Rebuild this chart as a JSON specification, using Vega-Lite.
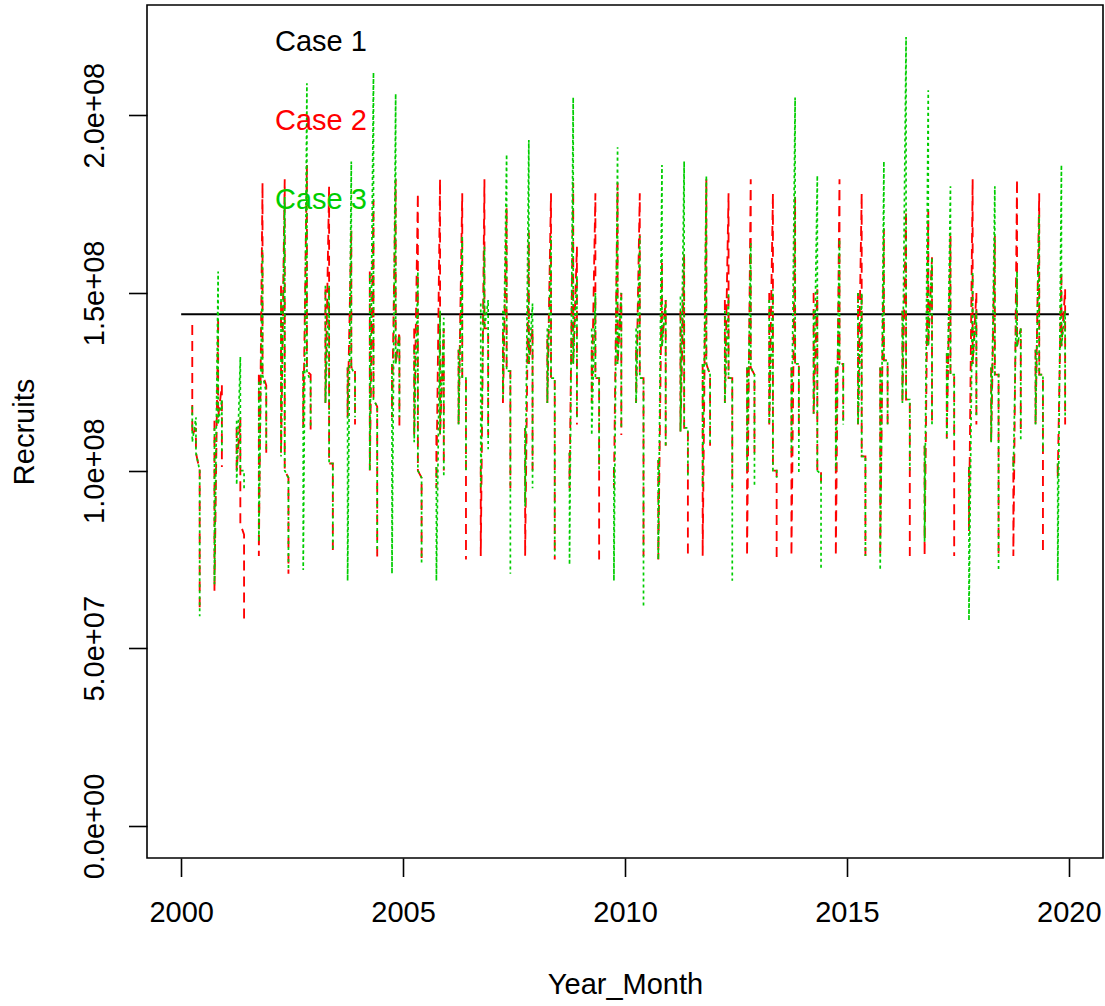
{
"$schema": "https://vega.github.io/schema/vega-lite/v6.json",
"width": 956,
"height": 853,
"autosize": {"type": "none"},
"padding": {"left": 147, "top": 5, "right": 2, "bottom": 148},
"background": "white",
"config": {"view": {"stroke": "black", "strokeWidth": 1.6}, "font": "Liberation Sans"},
"data": {"values": [
{"c":"Case 1","g":"base","k":1,"t":2000,"v":1.44e8},
{"c":"Case 1","g":"base","k":2,"t":2020,"v":1.44e8},

{"c":"Case 2","g":"2000A","k":1,"t":2000.25,"v":1.41e8},{"c":"Case 2","g":"2000A","k":2,"t":2000.25,"v":1.10e8},{"c":"Case 2","g":"2000A","k":3,"t":2000.333,"v":1.12e8},{"c":"Case 2","g":"2000A","k":4,"t":2000.333,"v":1.05e8},{"c":"Case 2","g":"2000A","k":5,"t":2000.417,"v":1.00e8},{"c":"Case 2","g":"2000A","k":6,"t":2000.417,"v":0.60e8},
{"c":"Case 2","g":"2000B","k":1,"t":2000.75,"v":1.14e8},{"c":"Case 2","g":"2000B","k":2,"t":2000.75,"v":0.66e8},{"c":"Case 2","g":"2000B","k":3,"t":2000.833,"v":1.43e8},{"c":"Case 2","g":"2000B","k":4,"t":2000.833,"v":1.15e8},{"c":"Case 2","g":"2000B","k":5,"t":2000.917,"v":1.24e8},{"c":"Case 2","g":"2000B","k":6,"t":2000.917,"v":1.01e8},
{"c":"Case 2","g":"2001A","k":1,"t":2001.25,"v":1.12e8},{"c":"Case 2","g":"2001A","k":2,"t":2001.25,"v":1.00e8},{"c":"Case 2","g":"2001A","k":3,"t":2001.333,"v":1.15e8},{"c":"Case 2","g":"2001A","k":4,"t":2001.333,"v":0.85e8},{"c":"Case 2","g":"2001A","k":5,"t":2001.417,"v":0.82e8},{"c":"Case 2","g":"2001A","k":6,"t":2001.417,"v":0.58e8},
{"c":"Case 2","g":"2001B","k":1,"t":2001.75,"v":1.27e8},{"c":"Case 2","g":"2001B","k":2,"t":2001.75,"v":0.76e8},{"c":"Case 2","g":"2001B","k":3,"t":2001.833,"v":1.81e8},{"c":"Case 2","g":"2001B","k":4,"t":2001.833,"v":1.27e8},{"c":"Case 2","g":"2001B","k":5,"t":2001.917,"v":1.24e8},{"c":"Case 2","g":"2001B","k":6,"t":2001.917,"v":1.05e8},
{"c":"Case 2","g":"2002A","k":1,"t":2002.25,"v":1.52e8},{"c":"Case 2","g":"2002A","k":2,"t":2002.25,"v":1.05e8},{"c":"Case 2","g":"2002A","k":3,"t":2002.333,"v":1.82e8},{"c":"Case 2","g":"2002A","k":4,"t":2002.333,"v":1.00e8},{"c":"Case 2","g":"2002A","k":5,"t":2002.417,"v":0.98e8},{"c":"Case 2","g":"2002A","k":6,"t":2002.417,"v":0.71e8},
{"c":"Case 2","g":"2002B","k":1,"t":2002.75,"v":1.28e8},{"c":"Case 2","g":"2002B","k":2,"t":2002.75,"v":1.12e8},{"c":"Case 2","g":"2002B","k":3,"t":2002.833,"v":1.86e8},{"c":"Case 2","g":"2002B","k":4,"t":2002.833,"v":1.28e8},{"c":"Case 2","g":"2002B","k":5,"t":2002.917,"v":1.27e8},{"c":"Case 2","g":"2002B","k":6,"t":2002.917,"v":1.10e8},
{"c":"Case 2","g":"2003A","k":1,"t":2003.25,"v":1.51e8},{"c":"Case 2","g":"2003A","k":2,"t":2003.25,"v":1.19e8},{"c":"Case 2","g":"2003A","k":3,"t":2003.333,"v":1.80e8},{"c":"Case 2","g":"2003A","k":4,"t":2003.333,"v":1.02e8},{"c":"Case 2","g":"2003A","k":5,"t":2003.417,"v":1.02e8},{"c":"Case 2","g":"2003A","k":6,"t":2003.417,"v":0.76e8},
{"c":"Case 2","g":"2003B","k":1,"t":2003.75,"v":1.29e8},{"c":"Case 2","g":"2003B","k":2,"t":2003.75,"v":1.15e8},{"c":"Case 2","g":"2003B","k":3,"t":2003.833,"v":1.68e8},{"c":"Case 2","g":"2003B","k":4,"t":2003.833,"v":1.29e8},{"c":"Case 2","g":"2003B","k":5,"t":2003.917,"v":1.29e8},{"c":"Case 2","g":"2003B","k":6,"t":2003.917,"v":1.13e8},
{"c":"Case 2","g":"2004A","k":1,"t":2004.25,"v":1.56e8},{"c":"Case 2","g":"2004A","k":2,"t":2004.25,"v":1.00e8},{"c":"Case 2","g":"2004A","k":3,"t":2004.333,"v":1.76e8},{"c":"Case 2","g":"2004A","k":4,"t":2004.333,"v":1.20e8},{"c":"Case 2","g":"2004A","k":5,"t":2004.417,"v":1.18e8},{"c":"Case 2","g":"2004A","k":6,"t":2004.417,"v":0.75e8},
{"c":"Case 2","g":"2004B","k":1,"t":2004.75,"v":1.30e8},{"c":"Case 2","g":"2004B","k":2,"t":2004.75,"v":1.15e8},{"c":"Case 2","g":"2004B","k":3,"t":2004.833,"v":1.82e8},{"c":"Case 2","g":"2004B","k":4,"t":2004.833,"v":1.30e8},{"c":"Case 2","g":"2004B","k":5,"t":2004.917,"v":1.39e8},{"c":"Case 2","g":"2004B","k":6,"t":2004.917,"v":1.12e8},
{"c":"Case 2","g":"2005A","k":1,"t":2005.25,"v":1.40e8},{"c":"Case 2","g":"2005A","k":2,"t":2005.25,"v":1.10e8},{"c":"Case 2","g":"2005A","k":3,"t":2005.333,"v":1.78e8},{"c":"Case 2","g":"2005A","k":4,"t":2005.333,"v":1.00e8},{"c":"Case 2","g":"2005A","k":5,"t":2005.417,"v":0.98e8},{"c":"Case 2","g":"2005A","k":6,"t":2005.417,"v":0.74e8},
{"c":"Case 2","g":"2005B","k":1,"t":2005.75,"v":1.10e8},{"c":"Case 2","g":"2005B","k":2,"t":2005.75,"v":0.95e8},{"c":"Case 2","g":"2005B","k":3,"t":2005.833,"v":1.82e8},{"c":"Case 2","g":"2005B","k":4,"t":2005.833,"v":1.10e8},{"c":"Case 2","g":"2005B","k":5,"t":2005.917,"v":1.40e8},{"c":"Case 2","g":"2005B","k":6,"t":2005.917,"v":1.00e8},
{"c":"Case 2","g":"2006A","k":1,"t":2006.25,"v":1.34e8},{"c":"Case 2","g":"2006A","k":2,"t":2006.25,"v":1.13e8},{"c":"Case 2","g":"2006A","k":3,"t":2006.333,"v":1.78e8},{"c":"Case 2","g":"2006A","k":4,"t":2006.333,"v":1.26e8},{"c":"Case 2","g":"2006A","k":5,"t":2006.417,"v":1.26e8},{"c":"Case 2","g":"2006A","k":6,"t":2006.417,"v":0.75e8},
{"c":"Case 2","g":"2006B","k":1,"t":2006.75,"v":1.01e8},{"c":"Case 2","g":"2006B","k":2,"t":2006.75,"v":0.76e8},{"c":"Case 2","g":"2006B","k":3,"t":2006.833,"v":1.82e8},{"c":"Case 2","g":"2006B","k":4,"t":2006.833,"v":1.40e8},{"c":"Case 2","g":"2006B","k":5,"t":2006.917,"v":1.40e8},{"c":"Case 2","g":"2006B","k":6,"t":2006.917,"v":1.10e8},
{"c":"Case 2","g":"2007A","k":1,"t":2007.25,"v":1.39e8},{"c":"Case 2","g":"2007A","k":2,"t":2007.25,"v":1.19e8},{"c":"Case 2","g":"2007A","k":3,"t":2007.333,"v":1.74e8},{"c":"Case 2","g":"2007A","k":4,"t":2007.333,"v":1.28e8},{"c":"Case 2","g":"2007A","k":5,"t":2007.417,"v":1.28e8},{"c":"Case 2","g":"2007A","k":6,"t":2007.417,"v":0.95e8},
{"c":"Case 2","g":"2007B","k":1,"t":2007.75,"v":1.12e8},{"c":"Case 2","g":"2007B","k":2,"t":2007.75,"v":0.76e8},{"c":"Case 2","g":"2007B","k":3,"t":2007.833,"v":1.67e8},{"c":"Case 2","g":"2007B","k":4,"t":2007.833,"v":1.30e8},{"c":"Case 2","g":"2007B","k":5,"t":2007.917,"v":1.40e8},{"c":"Case 2","g":"2007B","k":6,"t":2007.917,"v":1.00e8},
{"c":"Case 2","g":"2008A","k":1,"t":2008.25,"v":1.37e8},{"c":"Case 2","g":"2008A","k":2,"t":2008.25,"v":1.19e8},{"c":"Case 2","g":"2008A","k":3,"t":2008.333,"v":1.78e8},{"c":"Case 2","g":"2008A","k":4,"t":2008.333,"v":1.26e8},{"c":"Case 2","g":"2008A","k":5,"t":2008.417,"v":1.26e8},{"c":"Case 2","g":"2008A","k":6,"t":2008.417,"v":0.75e8},
{"c":"Case 2","g":"2008B","k":1,"t":2008.75,"v":1.05e8},{"c":"Case 2","g":"2008B","k":2,"t":2008.75,"v":0.95e8},{"c":"Case 2","g":"2008B","k":3,"t":2008.833,"v":1.81e8},{"c":"Case 2","g":"2008B","k":4,"t":2008.833,"v":1.30e8},{"c":"Case 2","g":"2008B","k":5,"t":2008.917,"v":1.63e8},{"c":"Case 2","g":"2008B","k":6,"t":2008.917,"v":1.13e8},
{"c":"Case 2","g":"2009A","k":1,"t":2009.25,"v":1.34e8},{"c":"Case 2","g":"2009A","k":2,"t":2009.25,"v":1.19e8},{"c":"Case 2","g":"2009A","k":3,"t":2009.333,"v":1.78e8},{"c":"Case 2","g":"2009A","k":4,"t":2009.333,"v":1.26e8},{"c":"Case 2","g":"2009A","k":5,"t":2009.417,"v":1.26e8},{"c":"Case 2","g":"2009A","k":6,"t":2009.417,"v":0.75e8},
{"c":"Case 2","g":"2009B","k":1,"t":2009.75,"v":1.01e8},{"c":"Case 2","g":"2009B","k":2,"t":2009.75,"v":0.95e8},{"c":"Case 2","g":"2009B","k":3,"t":2009.833,"v":1.81e8},{"c":"Case 2","g":"2009B","k":4,"t":2009.833,"v":1.30e8},{"c":"Case 2","g":"2009B","k":5,"t":2009.917,"v":1.50e8},{"c":"Case 2","g":"2009B","k":6,"t":2009.917,"v":1.10e8},
{"c":"Case 2","g":"2010A","k":1,"t":2010.25,"v":1.34e8},{"c":"Case 2","g":"2010A","k":2,"t":2010.25,"v":1.19e8},{"c":"Case 2","g":"2010A","k":3,"t":2010.333,"v":1.78e8},{"c":"Case 2","g":"2010A","k":4,"t":2010.333,"v":1.26e8},{"c":"Case 2","g":"2010A","k":5,"t":2010.417,"v":1.26e8},{"c":"Case 2","g":"2010A","k":6,"t":2010.417,"v":0.76e8},
{"c":"Case 2","g":"2010B","k":1,"t":2010.75,"v":1.03e8},{"c":"Case 2","g":"2010B","k":2,"t":2010.75,"v":0.75e8},{"c":"Case 2","g":"2010B","k":3,"t":2010.833,"v":1.59e8},{"c":"Case 2","g":"2010B","k":4,"t":2010.833,"v":1.35e8},{"c":"Case 2","g":"2010B","k":5,"t":2010.917,"v":1.48e8},{"c":"Case 2","g":"2010B","k":6,"t":2010.917,"v":1.07e8},
{"c":"Case 2","g":"2011A","k":1,"t":2011.25,"v":1.45e8},{"c":"Case 2","g":"2011A","k":2,"t":2011.25,"v":1.11e8},{"c":"Case 2","g":"2011A","k":3,"t":2011.333,"v":1.61e8},{"c":"Case 2","g":"2011A","k":4,"t":2011.333,"v":1.12e8},{"c":"Case 2","g":"2011A","k":5,"t":2011.417,"v":1.12e8},{"c":"Case 2","g":"2011A","k":6,"t":2011.417,"v":0.75e8},
{"c":"Case 2","g":"2011B","k":1,"t":2011.75,"v":1.30e8},{"c":"Case 2","g":"2011B","k":2,"t":2011.75,"v":0.76e8},{"c":"Case 2","g":"2011B","k":3,"t":2011.833,"v":1.82e8},{"c":"Case 2","g":"2011B","k":4,"t":2011.833,"v":1.30e8},{"c":"Case 2","g":"2011B","k":5,"t":2011.917,"v":1.27e8},{"c":"Case 2","g":"2011B","k":6,"t":2011.917,"v":1.07e8},
{"c":"Case 2","g":"2012A","k":1,"t":2012.25,"v":1.48e8},{"c":"Case 2","g":"2012A","k":2,"t":2012.25,"v":1.19e8},{"c":"Case 2","g":"2012A","k":3,"t":2012.333,"v":1.78e8},{"c":"Case 2","g":"2012A","k":4,"t":2012.333,"v":1.26e8},{"c":"Case 2","g":"2012A","k":5,"t":2012.417,"v":1.26e8},{"c":"Case 2","g":"2012A","k":6,"t":2012.417,"v":0.95e8},
{"c":"Case 2","g":"2012B","k":1,"t":2012.75,"v":1.29e8},{"c":"Case 2","g":"2012B","k":2,"t":2012.75,"v":0.76e8},{"c":"Case 2","g":"2012B","k":3,"t":2012.833,"v":1.82e8},{"c":"Case 2","g":"2012B","k":4,"t":2012.833,"v":1.29e8},{"c":"Case 2","g":"2012B","k":5,"t":2012.917,"v":1.27e8},{"c":"Case 2","g":"2012B","k":6,"t":2012.917,"v":1.05e8},
{"c":"Case 2","g":"2013A","k":1,"t":2013.25,"v":1.50e8},{"c":"Case 2","g":"2013A","k":2,"t":2013.25,"v":1.13e8},{"c":"Case 2","g":"2013A","k":3,"t":2013.333,"v":1.78e8},{"c":"Case 2","g":"2013A","k":4,"t":2013.333,"v":1.00e8},{"c":"Case 2","g":"2013A","k":5,"t":2013.417,"v":1.00e8},{"c":"Case 2","g":"2013A","k":6,"t":2013.417,"v":0.75e8},
{"c":"Case 2","g":"2013B","k":1,"t":2013.75,"v":1.29e8},{"c":"Case 2","g":"2013B","k":2,"t":2013.75,"v":0.76e8},{"c":"Case 2","g":"2013B","k":3,"t":2013.833,"v":1.77e8},{"c":"Case 2","g":"2013B","k":4,"t":2013.833,"v":1.30e8},{"c":"Case 2","g":"2013B","k":5,"t":2013.917,"v":1.30e8},{"c":"Case 2","g":"2013B","k":6,"t":2013.917,"v":1.10e8},
{"c":"Case 2","g":"2014A","k":1,"t":2014.25,"v":1.50e8},{"c":"Case 2","g":"2014A","k":2,"t":2014.25,"v":1.16e8},{"c":"Case 2","g":"2014A","k":3,"t":2014.333,"v":1.51e8},{"c":"Case 2","g":"2014A","k":4,"t":2014.333,"v":1.00e8},{"c":"Case 2","g":"2014A","k":5,"t":2014.417,"v":1.00e8},{"c":"Case 2","g":"2014A","k":6,"t":2014.417,"v":0.95e8},
{"c":"Case 2","g":"2014B","k":1,"t":2014.75,"v":1.29e8},{"c":"Case 2","g":"2014B","k":2,"t":2014.75,"v":0.76e8},{"c":"Case 2","g":"2014B","k":3,"t":2014.833,"v":1.82e8},{"c":"Case 2","g":"2014B","k":4,"t":2014.833,"v":1.30e8},{"c":"Case 2","g":"2014B","k":5,"t":2014.917,"v":1.30e8},{"c":"Case 2","g":"2014B","k":6,"t":2014.917,"v":1.13e8},
{"c":"Case 2","g":"2015A","k":1,"t":2015.25,"v":1.50e8},{"c":"Case 2","g":"2015A","k":2,"t":2015.25,"v":1.13e8},{"c":"Case 2","g":"2015A","k":3,"t":2015.333,"v":1.78e8},{"c":"Case 2","g":"2015A","k":4,"t":2015.333,"v":1.04e8},{"c":"Case 2","g":"2015A","k":5,"t":2015.417,"v":1.04e8},{"c":"Case 2","g":"2015A","k":6,"t":2015.417,"v":0.76e8},
{"c":"Case 2","g":"2015B","k":1,"t":2015.75,"v":1.29e8},{"c":"Case 2","g":"2015B","k":2,"t":2015.75,"v":0.76e8},{"c":"Case 2","g":"2015B","k":3,"t":2015.833,"v":1.68e8},{"c":"Case 2","g":"2015B","k":4,"t":2015.833,"v":1.31e8},{"c":"Case 2","g":"2015B","k":5,"t":2015.917,"v":1.31e8},{"c":"Case 2","g":"2015B","k":6,"t":2015.917,"v":1.13e8},
{"c":"Case 2","g":"2016A","k":1,"t":2016.25,"v":1.45e8},{"c":"Case 2","g":"2016A","k":2,"t":2016.25,"v":1.19e8},{"c":"Case 2","g":"2016A","k":3,"t":2016.333,"v":1.73e8},{"c":"Case 2","g":"2016A","k":4,"t":2016.333,"v":1.20e8},{"c":"Case 2","g":"2016A","k":5,"t":2016.417,"v":1.20e8},{"c":"Case 2","g":"2016A","k":6,"t":2016.417,"v":0.76e8},
{"c":"Case 2","g":"2016B","k":1,"t":2016.75,"v":1.07e8},{"c":"Case 2","g":"2016B","k":2,"t":2016.75,"v":0.76e8},{"c":"Case 2","g":"2016B","k":3,"t":2016.833,"v":1.73e8},{"c":"Case 2","g":"2016B","k":4,"t":2016.833,"v":1.35e8},{"c":"Case 2","g":"2016B","k":5,"t":2016.917,"v":1.60e8},{"c":"Case 2","g":"2016B","k":6,"t":2016.917,"v":1.13e8},
{"c":"Case 2","g":"2017A","k":1,"t":2017.25,"v":1.33e8},{"c":"Case 2","g":"2017A","k":2,"t":2017.25,"v":1.09e8},{"c":"Case 2","g":"2017A","k":3,"t":2017.333,"v":1.66e8},{"c":"Case 2","g":"2017A","k":4,"t":2017.333,"v":1.27e8},{"c":"Case 2","g":"2017A","k":5,"t":2017.417,"v":1.27e8},{"c":"Case 2","g":"2017A","k":6,"t":2017.417,"v":0.76e8},
{"c":"Case 2","g":"2017B","k":1,"t":2017.75,"v":1.01e8},{"c":"Case 2","g":"2017B","k":2,"t":2017.75,"v":0.83e8},{"c":"Case 2","g":"2017B","k":3,"t":2017.833,"v":1.82e8},{"c":"Case 2","g":"2017B","k":4,"t":2017.833,"v":1.30e8},{"c":"Case 2","g":"2017B","k":5,"t":2017.917,"v":1.50e8},{"c":"Case 2","g":"2017B","k":6,"t":2017.917,"v":1.13e8},
{"c":"Case 2","g":"2018A","k":1,"t":2018.25,"v":1.29e8},{"c":"Case 2","g":"2018A","k":2,"t":2018.25,"v":1.08e8},{"c":"Case 2","g":"2018A","k":3,"t":2018.333,"v":1.66e8},{"c":"Case 2","g":"2018A","k":4,"t":2018.333,"v":1.27e8},{"c":"Case 2","g":"2018A","k":5,"t":2018.417,"v":1.27e8},{"c":"Case 2","g":"2018A","k":6,"t":2018.417,"v":0.76e8},
{"c":"Case 2","g":"2018B","k":1,"t":2018.75,"v":1.04e8},{"c":"Case 2","g":"2018B","k":2,"t":2018.75,"v":0.76e8},{"c":"Case 2","g":"2018B","k":3,"t":2018.833,"v":1.82e8},{"c":"Case 2","g":"2018B","k":4,"t":2018.833,"v":1.35e8},{"c":"Case 2","g":"2018B","k":5,"t":2018.917,"v":1.40e8},{"c":"Case 2","g":"2018B","k":6,"t":2018.917,"v":1.10e8},
{"c":"Case 2","g":"2019A","k":1,"t":2019.25,"v":1.34e8},{"c":"Case 2","g":"2019A","k":2,"t":2019.25,"v":1.13e8},{"c":"Case 2","g":"2019A","k":3,"t":2019.333,"v":1.78e8},{"c":"Case 2","g":"2019A","k":4,"t":2019.333,"v":1.27e8},{"c":"Case 2","g":"2019A","k":5,"t":2019.417,"v":1.27e8},{"c":"Case 2","g":"2019A","k":6,"t":2019.417,"v":0.76e8},
{"c":"Case 2","g":"2019B","k":1,"t":2019.75,"v":1.02e8},{"c":"Case 2","g":"2019B","k":2,"t":2019.75,"v":0.98e8},{"c":"Case 2","g":"2019B","k":3,"t":2019.833,"v":1.56e8},{"c":"Case 2","g":"2019B","k":4,"t":2019.833,"v":1.35e8},{"c":"Case 2","g":"2019B","k":5,"t":2019.917,"v":1.51e8},{"c":"Case 2","g":"2019B","k":6,"t":2019.917,"v":1.13e8},

{"c":"Case 3","g":"2000A","k":1,"t":2000.25,"v":1.18e8},{"c":"Case 3","g":"2000A","k":2,"t":2000.25,"v":1.08e8},{"c":"Case 3","g":"2000A","k":3,"t":2000.333,"v":1.15e8},{"c":"Case 3","g":"2000A","k":4,"t":2000.333,"v":1.05e8},{"c":"Case 3","g":"2000A","k":5,"t":2000.417,"v":1.00e8},{"c":"Case 3","g":"2000A","k":6,"t":2000.417,"v":0.59e8},
{"c":"Case 3","g":"2000B","k":1,"t":2000.75,"v":1.12e8},{"c":"Case 3","g":"2000B","k":2,"t":2000.75,"v":0.68e8},{"c":"Case 3","g":"2000B","k":3,"t":2000.833,"v":1.56e8},{"c":"Case 3","g":"2000B","k":4,"t":2000.833,"v":1.13e8},{"c":"Case 3","g":"2000B","k":5,"t":2000.917,"v":1.20e8},{"c":"Case 3","g":"2000B","k":6,"t":2000.917,"v":1.05e8},
{"c":"Case 3","g":"2001A","k":1,"t":2001.25,"v":1.14e8},{"c":"Case 3","g":"2001A","k":2,"t":2001.25,"v":0.96e8},{"c":"Case 3","g":"2001A","k":3,"t":2001.333,"v":1.32e8},{"c":"Case 3","g":"2001A","k":4,"t":2001.333,"v":1.00e8},{"c":"Case 3","g":"2001A","k":5,"t":2001.417,"v":1.00e8},{"c":"Case 3","g":"2001A","k":6,"t":2001.417,"v":0.95e8},
{"c":"Case 3","g":"2001B","k":1,"t":2001.75,"v":1.25e8},{"c":"Case 3","g":"2001B","k":2,"t":2001.75,"v":0.80e8},{"c":"Case 3","g":"2001B","k":3,"t":2001.833,"v":1.62e8},{"c":"Case 3","g":"2001B","k":4,"t":2001.833,"v":1.27e8},{"c":"Case 3","g":"2001B","k":5,"t":2001.917,"v":1.22e8},{"c":"Case 3","g":"2001B","k":6,"t":2001.917,"v":1.06e8},
{"c":"Case 3","g":"2002A","k":1,"t":2002.25,"v":1.50e8},{"c":"Case 3","g":"2002A","k":2,"t":2002.25,"v":1.04e8},{"c":"Case 3","g":"2002A","k":3,"t":2002.333,"v":1.77e8},{"c":"Case 3","g":"2002A","k":4,"t":2002.333,"v":1.00e8},{"c":"Case 3","g":"2002A","k":5,"t":2002.417,"v":0.98e8},{"c":"Case 3","g":"2002A","k":6,"t":2002.417,"v":0.72e8},
{"c":"Case 3","g":"2002B","k":1,"t":2002.75,"v":1.28e8},{"c":"Case 3","g":"2002B","k":2,"t":2002.75,"v":0.72e8},{"c":"Case 3","g":"2002B","k":3,"t":2002.833,"v":2.09e8},{"c":"Case 3","g":"2002B","k":4,"t":2002.833,"v":1.28e8},{"c":"Case 3","g":"2002B","k":5,"t":2002.917,"v":1.25e8},{"c":"Case 3","g":"2002B","k":6,"t":2002.917,"v":1.12e8},
{"c":"Case 3","g":"2003A","k":1,"t":2003.25,"v":1.52e8},{"c":"Case 3","g":"2003A","k":2,"t":2003.25,"v":1.19e8},{"c":"Case 3","g":"2003A","k":3,"t":2003.333,"v":1.52e8},{"c":"Case 3","g":"2003A","k":4,"t":2003.333,"v":1.02e8},{"c":"Case 3","g":"2003A","k":5,"t":2003.417,"v":1.02e8},{"c":"Case 3","g":"2003A","k":6,"t":2003.417,"v":0.78e8},
{"c":"Case 3","g":"2003B","k":1,"t":2003.75,"v":1.29e8},{"c":"Case 3","g":"2003B","k":2,"t":2003.75,"v":0.69e8},{"c":"Case 3","g":"2003B","k":3,"t":2003.833,"v":1.87e8},{"c":"Case 3","g":"2003B","k":4,"t":2003.833,"v":1.29e8},{"c":"Case 3","g":"2003B","k":5,"t":2003.917,"v":1.27e8},{"c":"Case 3","g":"2003B","k":6,"t":2003.917,"v":1.15e8},
{"c":"Case 3","g":"2004A","k":1,"t":2004.25,"v":1.55e8},{"c":"Case 3","g":"2004A","k":2,"t":2004.25,"v":1.00e8},{"c":"Case 3","g":"2004A","k":3,"t":2004.333,"v":2.12e8},{"c":"Case 3","g":"2004A","k":4,"t":2004.333,"v":1.20e8},{"c":"Case 3","g":"2004A","k":5,"t":2004.417,"v":1.18e8},{"c":"Case 3","g":"2004A","k":6,"t":2004.417,"v":0.77e8},
{"c":"Case 3","g":"2004B","k":1,"t":2004.75,"v":1.30e8},{"c":"Case 3","g":"2004B","k":2,"t":2004.75,"v":0.71e8},{"c":"Case 3","g":"2004B","k":3,"t":2004.833,"v":2.06e8},{"c":"Case 3","g":"2004B","k":4,"t":2004.833,"v":1.30e8},{"c":"Case 3","g":"2004B","k":5,"t":2004.917,"v":1.38e8},{"c":"Case 3","g":"2004B","k":6,"t":2004.917,"v":1.15e8},
{"c":"Case 3","g":"2005A","k":1,"t":2005.25,"v":1.34e8},{"c":"Case 3","g":"2005A","k":2,"t":2005.25,"v":1.08e8},{"c":"Case 3","g":"2005A","k":3,"t":2005.333,"v":1.56e8},{"c":"Case 3","g":"2005A","k":4,"t":2005.333,"v":1.00e8},{"c":"Case 3","g":"2005A","k":5,"t":2005.417,"v":0.98e8},{"c":"Case 3","g":"2005A","k":6,"t":2005.417,"v":0.74e8},
{"c":"Case 3","g":"2005B","k":1,"t":2005.75,"v":1.01e8},{"c":"Case 3","g":"2005B","k":2,"t":2005.75,"v":0.69e8},{"c":"Case 3","g":"2005B","k":3,"t":2005.833,"v":1.45e8},{"c":"Case 3","g":"2005B","k":4,"t":2005.833,"v":1.10e8},{"c":"Case 3","g":"2005B","k":5,"t":2005.917,"v":1.43e8},{"c":"Case 3","g":"2005B","k":6,"t":2005.917,"v":0.98e8},
{"c":"Case 3","g":"2006A","k":1,"t":2006.25,"v":1.34e8},{"c":"Case 3","g":"2006A","k":2,"t":2006.25,"v":1.13e8},{"c":"Case 3","g":"2006A","k":3,"t":2006.333,"v":1.66e8},{"c":"Case 3","g":"2006A","k":4,"t":2006.333,"v":1.26e8},{"c":"Case 3","g":"2006A","k":5,"t":2006.417,"v":1.26e8},{"c":"Case 3","g":"2006A","k":6,"t":2006.417,"v":1.00e8},
{"c":"Case 3","g":"2006B","k":1,"t":2006.75,"v":1.47e8},{"c":"Case 3","g":"2006B","k":2,"t":2006.75,"v":0.95e8},{"c":"Case 3","g":"2006B","k":3,"t":2006.833,"v":1.63e8},{"c":"Case 3","g":"2006B","k":4,"t":2006.833,"v":1.40e8},{"c":"Case 3","g":"2006B","k":5,"t":2006.917,"v":1.48e8},{"c":"Case 3","g":"2006B","k":6,"t":2006.917,"v":1.06e8},
{"c":"Case 3","g":"2007A","k":1,"t":2007.25,"v":1.45e8},{"c":"Case 3","g":"2007A","k":2,"t":2007.25,"v":1.20e8},{"c":"Case 3","g":"2007A","k":3,"t":2007.333,"v":1.89e8},{"c":"Case 3","g":"2007A","k":4,"t":2007.333,"v":1.28e8},{"c":"Case 3","g":"2007A","k":5,"t":2007.417,"v":1.28e8},{"c":"Case 3","g":"2007A","k":6,"t":2007.417,"v":0.71e8},
{"c":"Case 3","g":"2007B","k":1,"t":2007.75,"v":1.12e8},{"c":"Case 3","g":"2007B","k":2,"t":2007.75,"v":0.90e8},{"c":"Case 3","g":"2007B","k":3,"t":2007.833,"v":1.93e8},{"c":"Case 3","g":"2007B","k":4,"t":2007.833,"v":1.30e8},{"c":"Case 3","g":"2007B","k":5,"t":2007.917,"v":1.47e8},{"c":"Case 3","g":"2007B","k":6,"t":2007.917,"v":0.95e8},
{"c":"Case 3","g":"2008A","k":1,"t":2008.25,"v":1.40e8},{"c":"Case 3","g":"2008A","k":2,"t":2008.25,"v":1.19e8},{"c":"Case 3","g":"2008A","k":3,"t":2008.333,"v":1.66e8},{"c":"Case 3","g":"2008A","k":4,"t":2008.333,"v":1.26e8},{"c":"Case 3","g":"2008A","k":5,"t":2008.417,"v":1.26e8},{"c":"Case 3","g":"2008A","k":6,"t":2008.417,"v":0.76e8},
{"c":"Case 3","g":"2008B","k":1,"t":2008.75,"v":1.05e8},{"c":"Case 3","g":"2008B","k":2,"t":2008.75,"v":0.735e8},{"c":"Case 3","g":"2008B","k":3,"t":2008.833,"v":2.05e8},{"c":"Case 3","g":"2008B","k":4,"t":2008.833,"v":1.30e8},{"c":"Case 3","g":"2008B","k":5,"t":2008.917,"v":1.55e8},{"c":"Case 3","g":"2008B","k":6,"t":2008.917,"v":1.15e8},
{"c":"Case 3","g":"2009A","k":1,"t":2009.25,"v":1.40e8},{"c":"Case 3","g":"2009A","k":2,"t":2009.25,"v":1.10e8},{"c":"Case 3","g":"2009A","k":3,"t":2009.333,"v":1.50e8},{"c":"Case 3","g":"2009A","k":4,"t":2009.333,"v":1.26e8},{"c":"Case 3","g":"2009A","k":5,"t":2009.417,"v":1.26e8},{"c":"Case 3","g":"2009A","k":6,"t":2009.417,"v":1.00e8},
{"c":"Case 3","g":"2009B","k":1,"t":2009.75,"v":1.01e8},{"c":"Case 3","g":"2009B","k":2,"t":2009.75,"v":0.69e8},{"c":"Case 3","g":"2009B","k":3,"t":2009.833,"v":1.91e8},{"c":"Case 3","g":"2009B","k":4,"t":2009.833,"v":1.30e8},{"c":"Case 3","g":"2009B","k":5,"t":2009.917,"v":1.50e8},{"c":"Case 3","g":"2009B","k":6,"t":2009.917,"v":1.12e8},
{"c":"Case 3","g":"2010A","k":1,"t":2010.25,"v":1.40e8},{"c":"Case 3","g":"2010A","k":2,"t":2010.25,"v":1.19e8},{"c":"Case 3","g":"2010A","k":3,"t":2010.333,"v":1.66e8},{"c":"Case 3","g":"2010A","k":4,"t":2010.333,"v":1.26e8},{"c":"Case 3","g":"2010A","k":5,"t":2010.417,"v":1.26e8},{"c":"Case 3","g":"2010A","k":6,"t":2010.417,"v":0.62e8},
{"c":"Case 3","g":"2010B","k":1,"t":2010.75,"v":1.03e8},{"c":"Case 3","g":"2010B","k":2,"t":2010.75,"v":0.75e8},{"c":"Case 3","g":"2010B","k":3,"t":2010.833,"v":1.86e8},{"c":"Case 3","g":"2010B","k":4,"t":2010.833,"v":1.35e8},{"c":"Case 3","g":"2010B","k":5,"t":2010.917,"v":1.48e8},{"c":"Case 3","g":"2010B","k":6,"t":2010.917,"v":1.07e8},
{"c":"Case 3","g":"2011A","k":1,"t":2011.25,"v":1.49e8},{"c":"Case 3","g":"2011A","k":2,"t":2011.25,"v":1.11e8},{"c":"Case 3","g":"2011A","k":3,"t":2011.333,"v":1.87e8},{"c":"Case 3","g":"2011A","k":4,"t":2011.333,"v":1.12e8},{"c":"Case 3","g":"2011A","k":5,"t":2011.417,"v":1.12e8},{"c":"Case 3","g":"2011A","k":6,"t":2011.417,"v":0.98e8},
{"c":"Case 3","g":"2011B","k":1,"t":2011.75,"v":1.30e8},{"c":"Case 3","g":"2011B","k":2,"t":2011.75,"v":0.95e8},{"c":"Case 3","g":"2011B","k":3,"t":2011.833,"v":1.83e8},{"c":"Case 3","g":"2011B","k":4,"t":2011.833,"v":1.30e8},{"c":"Case 3","g":"2011B","k":5,"t":2011.917,"v":1.27e8},{"c":"Case 3","g":"2011B","k":6,"t":2011.917,"v":1.07e8},
{"c":"Case 3","g":"2012A","k":1,"t":2012.25,"v":1.45e8},{"c":"Case 3","g":"2012A","k":2,"t":2012.25,"v":1.19e8},{"c":"Case 3","g":"2012A","k":3,"t":2012.333,"v":1.50e8},{"c":"Case 3","g":"2012A","k":4,"t":2012.333,"v":1.26e8},{"c":"Case 3","g":"2012A","k":5,"t":2012.417,"v":1.26e8},{"c":"Case 3","g":"2012A","k":6,"t":2012.417,"v":0.69e8},
{"c":"Case 3","g":"2012B","k":1,"t":2012.75,"v":1.29e8},{"c":"Case 3","g":"2012B","k":2,"t":2012.75,"v":1.00e8},{"c":"Case 3","g":"2012B","k":3,"t":2012.833,"v":1.64e8},{"c":"Case 3","g":"2012B","k":4,"t":2012.833,"v":1.29e8},{"c":"Case 3","g":"2012B","k":5,"t":2012.917,"v":1.27e8},{"c":"Case 3","g":"2012B","k":6,"t":2012.917,"v":0.96e8},
{"c":"Case 3","g":"2013A","k":1,"t":2013.25,"v":1.48e8},{"c":"Case 3","g":"2013A","k":2,"t":2013.25,"v":1.13e8},{"c":"Case 3","g":"2013A","k":3,"t":2013.333,"v":1.51e8},{"c":"Case 3","g":"2013A","k":4,"t":2013.333,"v":1.00e8},{"c":"Case 3","g":"2013A","k":5,"t":2013.417,"v":1.00e8},{"c":"Case 3","g":"2013A","k":6,"t":2013.417,"v":0.98e8},
{"c":"Case 3","g":"2013B","k":1,"t":2013.75,"v":1.29e8},{"c":"Case 3","g":"2013B","k":2,"t":2013.75,"v":1.05e8},{"c":"Case 3","g":"2013B","k":3,"t":2013.833,"v":2.05e8},{"c":"Case 3","g":"2013B","k":4,"t":2013.833,"v":1.30e8},{"c":"Case 3","g":"2013B","k":5,"t":2013.917,"v":1.30e8},{"c":"Case 3","g":"2013B","k":6,"t":2013.917,"v":0.99e8},
{"c":"Case 3","g":"2014A","k":1,"t":2014.25,"v":1.45e8},{"c":"Case 3","g":"2014A","k":2,"t":2014.25,"v":1.16e8},{"c":"Case 3","g":"2014A","k":3,"t":2014.333,"v":1.83e8},{"c":"Case 3","g":"2014A","k":4,"t":2014.333,"v":1.00e8},{"c":"Case 3","g":"2014A","k":5,"t":2014.417,"v":0.99e8},{"c":"Case 3","g":"2014A","k":6,"t":2014.417,"v":0.72e8},
{"c":"Case 3","g":"2014B","k":1,"t":2014.75,"v":1.29e8},{"c":"Case 3","g":"2014B","k":2,"t":2014.75,"v":1.00e8},{"c":"Case 3","g":"2014B","k":3,"t":2014.833,"v":1.65e8},{"c":"Case 3","g":"2014B","k":4,"t":2014.833,"v":1.30e8},{"c":"Case 3","g":"2014B","k":5,"t":2014.917,"v":1.30e8},{"c":"Case 3","g":"2014B","k":6,"t":2014.917,"v":1.13e8},
{"c":"Case 3","g":"2015A","k":1,"t":2015.25,"v":1.50e8},{"c":"Case 3","g":"2015A","k":2,"t":2015.25,"v":1.13e8},{"c":"Case 3","g":"2015A","k":3,"t":2015.333,"v":1.50e8},{"c":"Case 3","g":"2015A","k":4,"t":2015.333,"v":1.04e8},{"c":"Case 3","g":"2015A","k":5,"t":2015.417,"v":1.04e8},{"c":"Case 3","g":"2015A","k":6,"t":2015.417,"v":0.76e8},
{"c":"Case 3","g":"2015B","k":1,"t":2015.75,"v":1.29e8},{"c":"Case 3","g":"2015B","k":2,"t":2015.75,"v":0.72e8},{"c":"Case 3","g":"2015B","k":3,"t":2015.833,"v":1.87e8},{"c":"Case 3","g":"2015B","k":4,"t":2015.833,"v":1.31e8},{"c":"Case 3","g":"2015B","k":5,"t":2015.917,"v":1.31e8},{"c":"Case 3","g":"2015B","k":6,"t":2015.917,"v":1.13e8},
{"c":"Case 3","g":"2016A","k":1,"t":2016.25,"v":1.45e8},{"c":"Case 3","g":"2016A","k":2,"t":2016.25,"v":1.19e8},{"c":"Case 3","g":"2016A","k":3,"t":2016.333,"v":2.22e8},{"c":"Case 3","g":"2016A","k":4,"t":2016.333,"v":1.20e8},{"c":"Case 3","g":"2016A","k":5,"t":2016.417,"v":1.20e8},{"c":"Case 3","g":"2016A","k":6,"t":2016.417,"v":1.00e8},
{"c":"Case 3","g":"2016B","k":1,"t":2016.75,"v":1.07e8},{"c":"Case 3","g":"2016B","k":2,"t":2016.75,"v":0.80e8},{"c":"Case 3","g":"2016B","k":3,"t":2016.833,"v":2.07e8},{"c":"Case 3","g":"2016B","k":4,"t":2016.833,"v":1.35e8},{"c":"Case 3","g":"2016B","k":5,"t":2016.917,"v":1.60e8},{"c":"Case 3","g":"2016B","k":6,"t":2016.917,"v":1.13e8},
{"c":"Case 3","g":"2017A","k":1,"t":2017.25,"v":1.33e8},{"c":"Case 3","g":"2017A","k":2,"t":2017.25,"v":1.09e8},{"c":"Case 3","g":"2017A","k":3,"t":2017.333,"v":1.80e8},{"c":"Case 3","g":"2017A","k":4,"t":2017.333,"v":1.27e8},{"c":"Case 3","g":"2017A","k":5,"t":2017.417,"v":1.27e8},{"c":"Case 3","g":"2017A","k":6,"t":2017.417,"v":1.09e8},
{"c":"Case 3","g":"2017B","k":1,"t":2017.75,"v":1.01e8},{"c":"Case 3","g":"2017B","k":2,"t":2017.75,"v":0.578e8},{"c":"Case 3","g":"2017B","k":3,"t":2017.833,"v":1.56e8},{"c":"Case 3","g":"2017B","k":4,"t":2017.833,"v":1.30e8},{"c":"Case 3","g":"2017B","k":5,"t":2017.917,"v":1.45e8},{"c":"Case 3","g":"2017B","k":6,"t":2017.917,"v":1.15e8},
{"c":"Case 3","g":"2018A","k":1,"t":2018.25,"v":1.29e8},{"c":"Case 3","g":"2018A","k":2,"t":2018.25,"v":1.08e8},{"c":"Case 3","g":"2018A","k":3,"t":2018.333,"v":1.80e8},{"c":"Case 3","g":"2018A","k":4,"t":2018.333,"v":1.27e8},{"c":"Case 3","g":"2018A","k":5,"t":2018.417,"v":1.27e8},{"c":"Case 3","g":"2018A","k":6,"t":2018.417,"v":0.72e8},
{"c":"Case 3","g":"2018B","k":1,"t":2018.75,"v":1.04e8},{"c":"Case 3","g":"2018B","k":2,"t":2018.75,"v":1.00e8},{"c":"Case 3","g":"2018B","k":3,"t":2018.833,"v":1.56e8},{"c":"Case 3","g":"2018B","k":4,"t":2018.833,"v":1.35e8},{"c":"Case 3","g":"2018B","k":5,"t":2018.917,"v":1.40e8},{"c":"Case 3","g":"2018B","k":6,"t":2018.917,"v":1.08e8},
{"c":"Case 3","g":"2019A","k":1,"t":2019.25,"v":1.34e8},{"c":"Case 3","g":"2019A","k":2,"t":2019.25,"v":1.13e8},{"c":"Case 3","g":"2019A","k":3,"t":2019.333,"v":1.72e8},{"c":"Case 3","g":"2019A","k":4,"t":2019.333,"v":1.27e8},{"c":"Case 3","g":"2019A","k":5,"t":2019.417,"v":1.27e8},{"c":"Case 3","g":"2019A","k":6,"t":2019.417,"v":1.05e8},
{"c":"Case 3","g":"2019B","k":1,"t":2019.75,"v":1.02e8},{"c":"Case 3","g":"2019B","k":2,"t":2019.75,"v":0.69e8},{"c":"Case 3","g":"2019B","k":3,"t":2019.833,"v":1.86e8},{"c":"Case 3","g":"2019B","k":4,"t":2019.833,"v":1.35e8},{"c":"Case 3","g":"2019B","k":5,"t":2019.917,"v":1.45e8},{"c":"Case 3","g":"2019B","k":6,"t":2019.917,"v":1.15e8}
]},
"mark": {"type": "line", "clip": true},
"encoding": {
  "x": {"field": "t", "type": "quantitative",
    "scale": {"domain": [1999.23, 2020.77], "nice": false, "zero": false},
    "axis": {"values": [2000, 2005, 2010, 2015, 2020], "format": "d", "title": "Year_Month",
      "grid": false, "domain": false, "tickSize": 18.5, "tickWidth": 1.6, "tickColor": "black",
      "labelFont": "Liberation Sans", "labelFontSize": 29, "labelColor": "black", "labelPadding": 22,
      "labelFlush": false, "labelOverlap": false,
      "titleFont": "Liberation Sans", "titleFontSize": 29, "titleFontWeight": "normal", "titleColor": "black",
      "titleX": 478, "titleY": 135, "titleBaseline": "alphabetic", "titleAlign": "center"}},
  "y": {"field": "v", "type": "quantitative",
    "scale": {"domain": [-9000000, 231000000], "nice": false, "zero": false},
    "axis": {"values": [0, 50000000, 100000000, 150000000, 200000000],
      "labelExpr": "replace(format(datum.value, '.1e'), 'e+', 'e+0')",
      "title": "Recruits", "grid": false, "domain": false, "tickSize": 18.5, "tickWidth": 1.6, "tickColor": "black",
      "labelFont": "Liberation Sans", "labelFontSize": 29, "labelColor": "black", "labelPadding": 19.5,
      "labelAngle": -90, "labelAlign": "center", "labelBaseline": "bottom",
      "labelFlush": false, "labelOverlap": false,
      "titleFont": "Liberation Sans", "titleFontSize": 29, "titleFontWeight": "normal", "titleColor": "black",
      "titleX": -114, "titleY": 426.5, "titleAngle": -90, "titleBaseline": "alphabetic", "titleAlign": "center"}},
  "color": {"field": "c", "type": "nominal",
    "scale": {"domain": ["Case 1", "Case 2", "Case 3"], "range": ["black", "red", "#00CD00"]},
    "legend": {"orient": "none", "legendX": 99, "legendY": 22, "title": null, "padding": 0,
      "symbolSize": 0, "symbolStrokeWidth": 0, "symbolOpacity": 0, "labelOffset": 0,
      "labelFont": "Liberation Sans", "labelFontSize": 29, "rowPadding": 49,
      "encode": {"labels": {"update": {"fill": {"scale": "color", "field": "value"}}}}}},
  "strokeDash": {"field": "c", "type": "nominal",
    "scale": {"domain": ["Case 1", "Case 2", "Case 3"], "range": [[1, 0], [10, 6], [3, 3]]}, "legend": null},
  "strokeWidth": {"field": "c", "type": "ordinal",
    "scale": {"domain": ["Case 1", "Case 2", "Case 3"], "range": [2, 1.7, 1.7]}, "legend": null},
  "detail": {"field": "g"},
  "order": {"field": "k", "type": "quantitative"}
}
}
